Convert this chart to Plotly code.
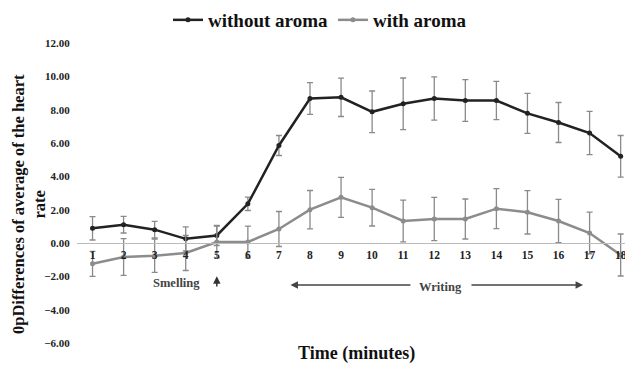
import plotly.graph_objects as go

minutes = list(range(1, 19))
tick_labels = [str(m) for m in minutes]

without_aroma = [0.88, 1.1, 0.8, 0.25, 0.45, 2.35, 5.85, 8.67, 8.74, 7.87, 8.35, 8.67, 8.55, 8.55, 7.78, 7.23, 6.6, 5.2]
without_err = [0.7, 0.5, 0.5, 0.72, 0.6, 0.4, 0.6, 0.95, 1.15, 1.25, 1.55, 1.3, 1.25, 1.15, 1.2, 1.2, 1.3, 1.25]

with_aroma = [-1.25, -0.84, -0.76, -0.6, 0.06, 0.06, 0.84, 2.0, 2.74, 2.12, 1.32, 1.44, 1.44, 2.06, 1.84, 1.32, 0.6, -0.72]
with_err = [0.75, 1.1, 1.0, 1.05, 0.95, 0.95, 1.05, 1.15, 1.2, 1.1, 1.25, 1.3, 1.2, 1.2, 1.3, 1.3, 1.25, 1.26]

y_ticks = [12, 10, 8, 6, 4, 2, 0, -2, -4, -6]

FONT = "Liberation Serif"
W, H = 625, 365
L, R, T, B = 77, 0, 43, 22
pw, ph = W - L - R, H - T - B

def px(x):
    return (x - L) / pw

def py(y):
    return (H - B - y) / ph

fig = go.Figure()
fig.add_trace(go.Scatter(
    x=minutes, y=without_aroma, name="without aroma", mode="lines+markers",
    line=dict(color="#222222", width=2.5),
    marker=dict(color="#222222", size=5),
    error_y=dict(type="data", array=without_err, visible=True, color="#8a8a8a", thickness=1.3, width=3),
))
fig.add_trace(go.Scatter(
    x=minutes, y=with_aroma, name="with aroma", mode="lines+markers",
    line=dict(color="#8c8c8c", width=2.5),
    marker=dict(color="#8c8c8c", size=5),
    error_y=dict(type="data", array=with_err, visible=True, color="#8a8a8a", thickness=1.3, width=3),
))

ann_font = dict(family=FONT, size=12.5, color="#444444")
annotations = [
    dict(text="<b>Time (minutes)</b>", x=px(356), y=py(353), xref="paper", yref="paper",
         showarrow=False, font=dict(family=FONT, size=18, color="#111111"), xanchor="center", yanchor="middle"),
    dict(text="<b>0pDifferences of average of the heart<br>rate</b>", x=px(28.5), y=py(204.5), xref="paper", yref="paper",
         showarrow=False, textangle=-90, font=dict(family=FONT, size=16.5, color="#111111"),
         xanchor="center", yanchor="middle"),
    dict(text="<b>Smelling</b>", x=3.7, y=-2.4, xref="x", yref="y", showarrow=False, font=ann_font),
    dict(text="<b>Writing</b>", x=12.19, y=-2.62, xref="x", yref="y", showarrow=False, font=ann_font),
    dict(text="", x=5, y=-2.0, ax=5, ay=-2.7, xref="x", yref="y", axref="x", ayref="y",
         showarrow=True, arrowhead=2, arrowsize=1, arrowwidth=1.5, arrowcolor="#333333"),
    dict(text="", x=7.37, y=-2.52, ax=11.28, ay=-2.52, xref="x", yref="y", axref="x", ayref="y",
         showarrow=True, arrowhead=2, arrowsize=1, arrowwidth=1.5, arrowcolor="#444444"),
    dict(text="", x=16.79, y=-2.52, ax=13.15, ay=-2.52, xref="x", yref="y", axref="x", ayref="y",
         showarrow=True, arrowhead=2, arrowsize=1, arrowwidth=1.5, arrowcolor="#444444"),
]

fig.update_layout(
    width=W, height=H,
    margin=dict(l=L, r=R, t=T, b=B, autoexpand=False),
    paper_bgcolor="white", plot_bgcolor="white",
    font=dict(family=FONT, color="#111111"),
    showlegend=True,
    legend=dict(orientation="h", x=px(320), y=py(20), xanchor="center", yanchor="middle",
                font=dict(family=FONT, size=19, color="#111111", weight="bold"),
                itemwidth=30, tracegroupgap=0, bgcolor="rgba(0,0,0,0)"),
    annotations=annotations,
    xaxis=dict(
        range=[0.5, 18.14], tickmode="array", tickvals=minutes, ticktext=tick_labels,
        anchor="free", position=1/3, showline=True, linecolor="#bbbbbb", linewidth=1,
        showgrid=False, zeroline=False, ticks="outside", ticklen=1, tickcolor="rgba(0,0,0,0)",
        ticklabeloverflow="allow",
        tickfont=dict(family=FONT, size=11.5, color="#222222", weight="bold"),
    ),
    yaxis=dict(
        range=[-6, 12], tickmode="array", tickvals=y_ticks, tickformat=".2f",
        showline=False, showgrid=False, zeroline=False,
        ticks="outside", ticklen=4, tickcolor="rgba(0,0,0,0)",
        tickfont=dict(family=FONT, size=11, color="#222222", weight="bold"),
    ),
)

fig.write_html("out.html", config={"displayModeBar": False},
               post_script="document.body.style.margin='0';document.body.style.overflow='hidden';")
